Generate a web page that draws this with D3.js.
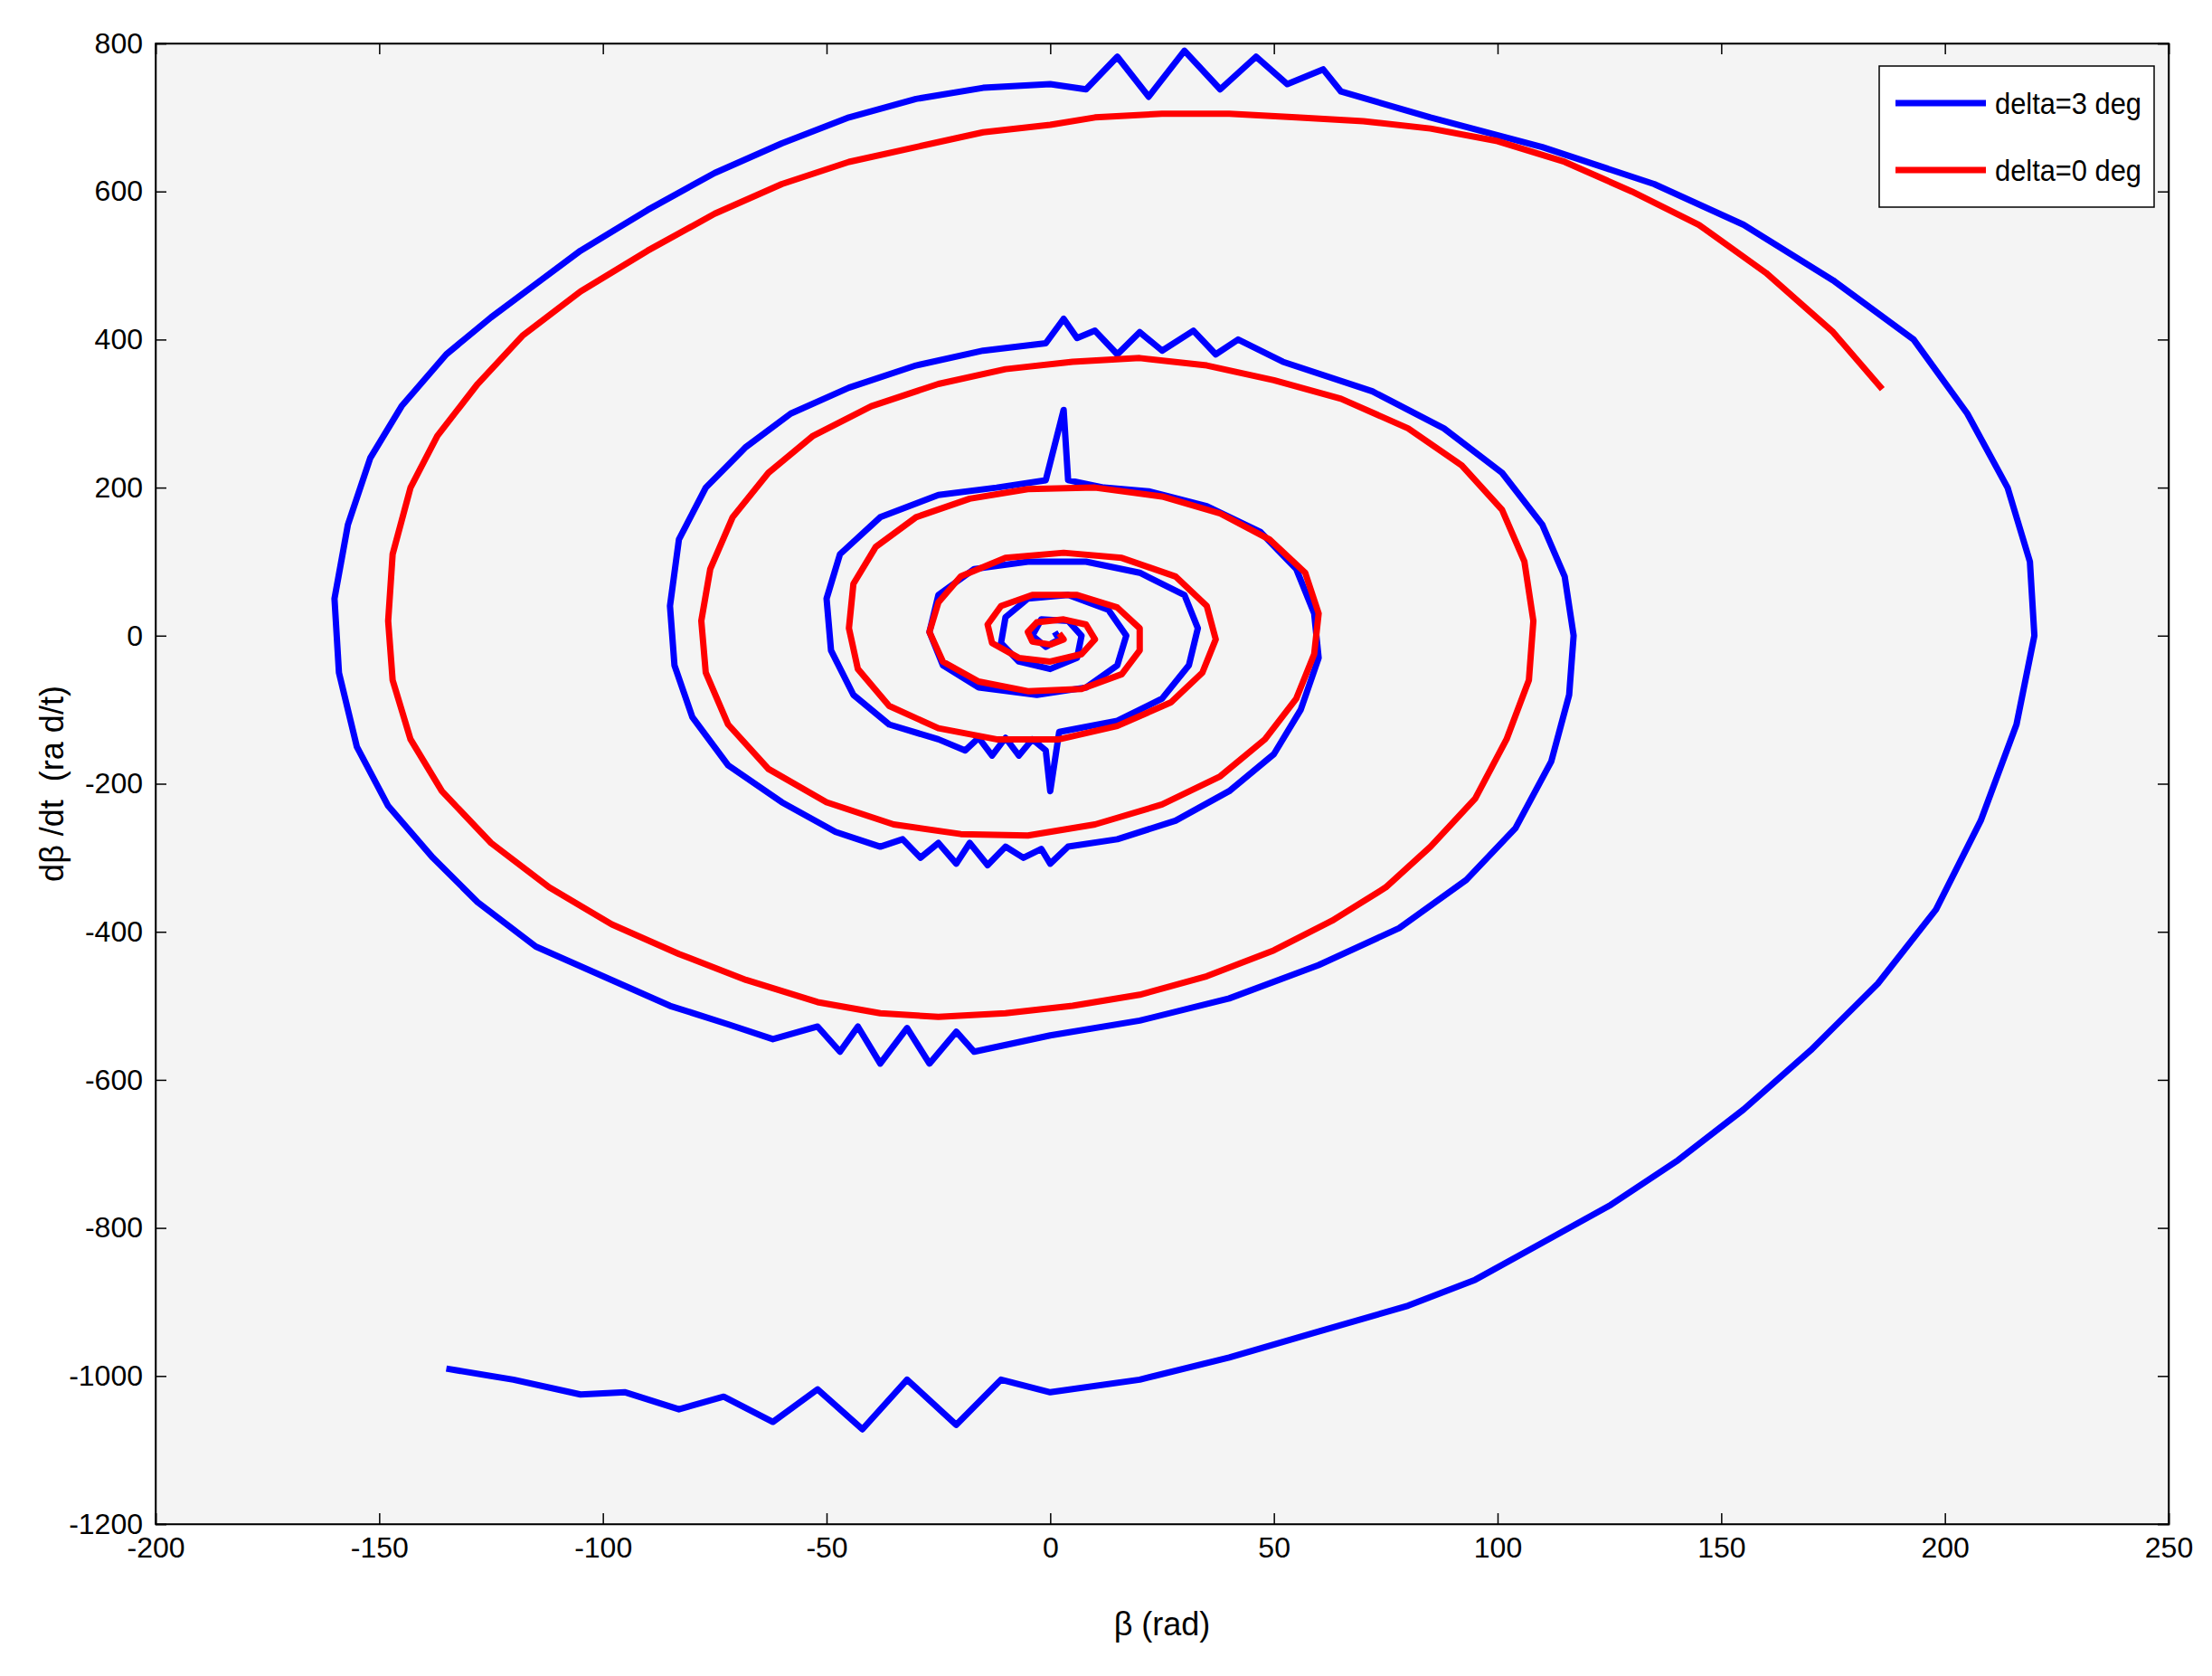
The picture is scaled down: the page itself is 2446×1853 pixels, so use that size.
<!DOCTYPE html>
<html><head><meta charset="utf-8">
<script src="https://cdn.jsdelivr.net/npm/d3@7"></script>
<style>body{margin:0;background:#fff}</style></head>
<body><svg id="c" width="2446" height="1853"></svg>
<script>
const xTicks=[-200,-150,-100,-50,0,50,100,150,200,250];
const yTicks=[-1200,-1000,-800,-600,-400,-200,0,200,400,600,800];
const seriesNames=["delta=3 deg","delta=0 deg"];
const seriesColors=["#0000ff","#ff0000"];
const blue=[[-135,-990],[-120,-1005],[-105,-1025],[-95,-1022],[-83,-1045],[-73,-1028],[-62,-1062],[-52,-1018],[-42,-1072],[-32,-1005],[-21,-1066],[-11,-1005],[0,-1022],[20,-1005],[40,-975],[60,-940],[80,-905],[95,-870],[110,-820],[125,-770],[140,-710],[155,-640],[170,-560],[185,-470],[198,-370],[208,-250],[216,-120],[220,0],[219,100],[214,200],[205,300],[193,400],[175,480],[155,555],[135,610],[110,660],[85,700],[65,735],[61,765],[53,745],[46,782],[38,738],[30,790],[22,728],[15,782],[8,738],[0,745],[-15,740],[-30,725],[-45,700],[-60,665],[-75,625],[-90,575],[-105,520],[-115,475],[-125,430],[-135,380],[-145,310],[-152,240],[-157,150],[-160,50],[-159,-50],[-155,-150],[-148,-230],[-138,-300],[-128,-360],[-115,-420],[-100,-460],[-85,-500],[-72,-525],[-62,-545],[-52,-528],[-47,-562],[-43,-528],[-38,-578],[-32,-530],[-27,-578],[-21,-535],[-17,-562],[0,-540],[20,-520],[40,-490],[60,-445],[78,-395],[93,-330],[104,-260],[112,-170],[116,-80],[117,0],[115,80],[110,150],[101,220],[88,280],[72,330],[52,370],[42,400],[37,380],[32,412],[25,385],[20,410],[15,380],[10,412],[6,402],[3,428],[-1,395],[-15,385],[-30,365],[-45,335],[-58,300],[-68,255],[-77,200],[-83,130],[-85,40],[-84,-40],[-80,-110],[-72,-175],[-60,-225],[-48,-265],[-38,-285],[-33,-275],[-29,-300],[-25,-280],[-21,-308],[-18,-280],[-14,-310],[-10,-285],[-6,-300],[-2,-288],[0,-308],[4,-285],[15,-275],[28,-250],[40,-210],[50,-160],[56,-100],[60,-30],[59,30],[55,90],[47,140],[35,175],[22,195],[12,200],[4,210],[3,305],[-1,210],[-12,200],[-25,190],[-38,160],[-47,110],[-50,50],[-49,-20],[-44,-80],[-36,-120],[-25,-140],[-19,-155],[-16,-138],[-13,-162],[-10,-138],[-7,-162],[-4,-140],[-1,-155],[0,-210],[2,-130],[15,-115],[25,-85],[31,-40],[33,10],[30,55],[20,85],[8,100],[-5,100],[-17,90],[-25,55],[-27,5],[-24,-40],[-16,-70],[-3,-80],[8,-70],[15,-40],[17,0],[13,35],[4,55],[-5,50],[-10,25],[-11,-10],[-7,-35],[0,-45],[6,-30],[7,0],[4,20],[-2,22],[-4,0],[-1,-15],[2,-5],[1,5]];
const red=[[186,333],[175,410],[160,490],[145,555],[130,600],[115,640],[100,668],[85,685],[70,695],[55,700],[40,705],[25,705],[10,700],[0,690],[-15,680],[-30,660],[-45,640],[-60,610],[-75,570],[-90,520],[-105,465],[-118,405],[-128,340],[-137,270],[-143,200],[-147,110],[-148,20],[-147,-60],[-143,-140],[-136,-210],[-125,-280],[-112,-340],[-98,-390],[-83,-430],[-68,-465],[-52,-495],[-38,-510],[-25,-515],[-10,-510],[5,-500],[20,-485],[35,-460],[50,-425],[63,-385],[75,-340],[85,-285],[95,-220],[102,-140],[107,-60],[108,20],[106,100],[101,170],[92,230],[80,280],[65,320],[50,345],[35,365],[20,375],[5,370],[-10,360],[-25,340],[-40,310],[-53,270],[-63,220],[-71,160],[-76,90],[-78,20],[-77,-50],[-72,-120],[-63,-180],[-50,-225],[-35,-255],[-20,-268],[-5,-270],[10,-255],[25,-228],[38,-190],[48,-140],[55,-85],[59,-25],[60,30],[57,85],[49,130],[38,165],[25,188],[10,200],[-5,198],[-18,185],[-30,160],[-39,120],[-44,70],[-45,10],[-43,-45],[-36,-95],[-25,-125],[-12,-140],[2,-140],[15,-122],[27,-90],[34,-50],[37,-5],[35,40],[28,80],[16,105],[3,112],[-10,105],[-20,80],[-25,45],[-27,5],[-24,-35],[-16,-62],[-5,-75],[7,-72],[16,-52],[20,-20],[20,10],[15,38],[6,55],[-4,55],[-11,40],[-14,15],[-13,-10],[-7,-30],[0,-35],[7,-25],[10,-5],[8,15],[3,22],[-3,18],[-5,5],[-4,-8],[0,-12],[3,-5],[2,3]];
const svg=d3.select("#c");
const L=172,R=2398,T=48,B=1685;
const x=d3.scaleLinear().domain([-200,250]).range([L,R]);
const y=d3.scaleLinear().domain([-1200,800]).range([B,T]);
svg.append("rect").attr("x",L).attr("y",T).attr("width",R-L).attr("height",B-T).attr("fill","#f4f4f4").attr("stroke","#000").attr("stroke-width",1.5);
const font="'Liberation Sans',Arial,sans-serif";
const fmt=d=>String(d);
const ax=svg.append("g").attr("transform",`translate(0,${B})`).call(d3.axisBottom(x).tickValues(xTicks).tickSize(-12).tickPadding(14).tickFormat(fmt));
const ax2=svg.append("g").attr("transform",`translate(0,${T})`).call(d3.axisTop(x).tickValues(xTicks).tickSize(-12).tickFormat(""));
const ay=svg.append("g").attr("transform",`translate(${L},0)`).call(d3.axisLeft(y).tickValues(yTicks).tickSize(-12).tickPadding(14).tickFormat(fmt));
const ay2=svg.append("g").attr("transform",`translate(${R},0)`).call(d3.axisRight(y).tickValues(yTicks).tickSize(-12).tickFormat(""));
[ax,ax2,ay,ay2].forEach(g=>{g.select(".domain").attr("stroke","#000").attr("stroke-width",1.5);g.selectAll("line").attr("stroke","#000").attr("stroke-width",1.5);g.selectAll("text").attr("font-family",font).attr("font-size",32).attr("fill","#000");});
const line=d3.line().x(d=>x(d[0])).y(d=>y(d[1])).curve(d3.curveLinear);
svg.append("path").datum(blue).attr("d",line).attr("fill","none").attr("stroke",seriesColors[0]).attr("stroke-width",7).attr("stroke-linejoin","round");
svg.append("path").datum(red).attr("d",line).attr("fill","none").attr("stroke",seriesColors[1]).attr("stroke-width",7).attr("stroke-linejoin","round");
svg.append("text").attr("x",(L+R)/2).attr("y",1808).attr("text-anchor","middle").attr("font-family",font).attr("font-size",36).text("β (rad)");
svg.append("text").attr("transform",`translate(70,${(T+B)/2}) rotate(-90)`).attr("text-anchor","middle").attr("font-family",font).attr("font-size",36).attr("xml:space","preserve").style("white-space","pre").text("dβ /dt  (ra d/t)");
const lg=svg.append("g");
lg.append("rect").attr("x",2078).attr("y",73).attr("width",304).attr("height",156).attr("fill","#fff").attr("stroke","#000").attr("stroke-width",1.5);
seriesNames.forEach((n,i)=>{const yy=114+i*74;
lg.append("line").attr("x1",2096).attr("x2",2196).attr("y1",yy).attr("y2",yy).attr("stroke",seriesColors[i]).attr("stroke-width",7);
lg.append("text").attr("x",2206).attr("y",yy+12).attr("font-family",font).attr("font-size",34).attr("textLength",162).attr("lengthAdjust","spacingAndGlyphs").text(n);});
</script></body></html>
